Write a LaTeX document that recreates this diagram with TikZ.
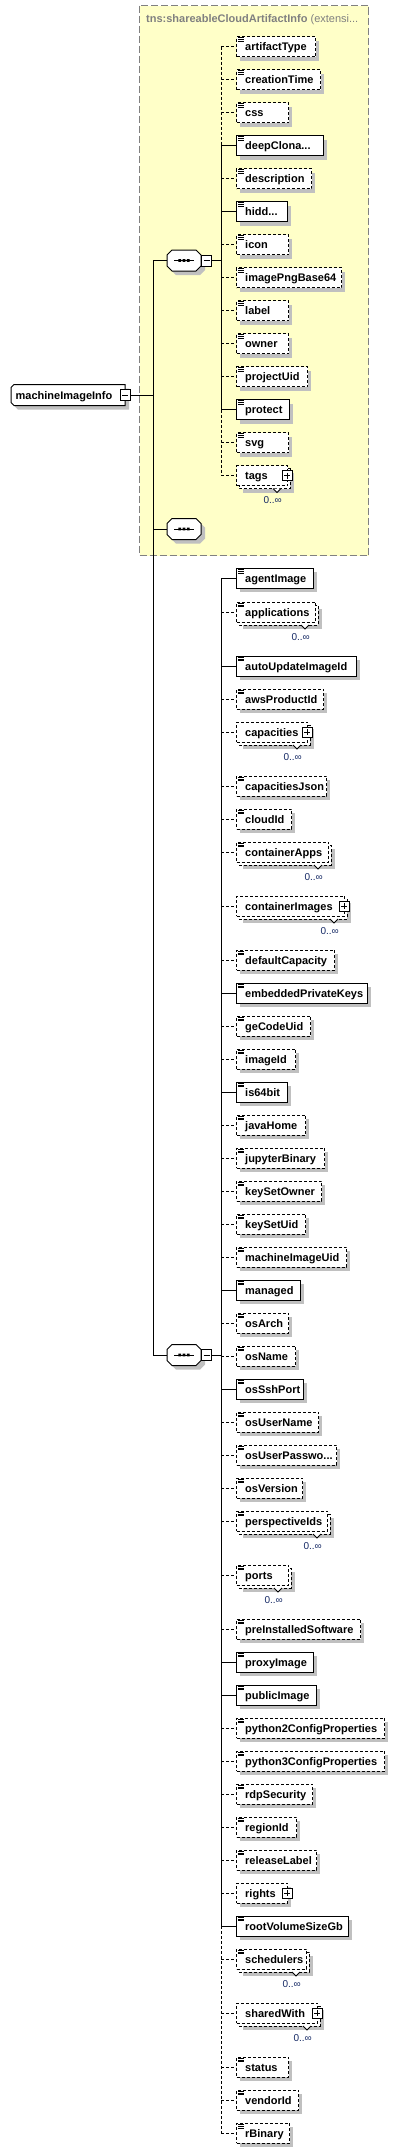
\documentclass[tikz,border=0pt]{standalone}
\usepackage{fontspec}
\setmainfont{Liberation Sans}
\usetikzlibrary{calc}
\definecolor{shadowc}{RGB}{192,192,192}
\definecolor{yel}{RGB}{255,255,200}
\definecolor{occ}{RGB}{20,40,100}
\definecolor{ttl}{RGB}{128,128,128}
\tikzset{
  ebox/.style={draw=black, fill=white, line width=1pt, minimum height=20pt, inner sep=0pt, anchor=west},
  opt/.style={dash pattern=on 3pt off 2pt},
  req/.style={},
  optwire/.style={line width=1pt, dash pattern=on 3pt off 2pt},
  reqwire/.style={line width=1pt},
  shd/.style={fill=shadowc, draw=none},
  etext/.style={font=\bfseries\fontsize{11pt}{13pt}\selectfont, anchor=base west, inner sep=0pt},
  occtext/.style={font=\fontsize{10pt}{12pt}\selectfont, text=occ, inner sep=0pt, anchor=base east},
  thin/.style={line width=1pt},
}
% icon of simple content
\newcommand\eicon[1]{\draw[line width=0.8pt] (238,#1-8.8) -- ++(5.5,0) (238,#1-7) -- ++(5.5,0) (238,#1-5.2) -- ++(5.5,0);}
\newcommand\plusbox[2]{\draw[fill=white,line width=1pt] (#1-5,#2-5) rectangle (#1+5,#2+5);
  \draw[line width=1pt] (#1-3,#2) -- (#1+3,#2) (#1,#2-3) -- (#1,#2+3);}
\newcommand\notch[2]{\draw[fill=white,line width=0.8pt] (#1-14,#2+13) -- (#1-10,#2+17) -- (#1-6,#2+13);}
\newcommand\occlabel[2]{\node[occtext] at (#1-5,#2+28) {0..∞};}
\newcommand\econn[3]{\coordinate (#1-b) at (221,#2); \draw[#3wire] (#1-b) -- (#1.west);}
% simple element
\newcommand\elS[5]{%
  \fill[shd] (240,#3-6) rectangle (#4+4,#3+14);
  \node[ebox,#5,minimum width={(#4-236)*1pt}] (#1) at (236,#3) {};
  \eicon{#3}
  \node[etext] at (245,#3+4) {#2};
  \econn{#1}{#3}{#5}}
% multiple simple element
\newcommand\elM[5]{%
  \fill[shd] (243,#3-3) rectangle (#4+7,#3+17);
  \draw[fill=white,line width=1pt,#5] (239,#3-7) rectangle (#4+3,#3+13);
  \node[ebox,#5,minimum width={(#4-236)*1pt}] (#1) at (236,#3) {};
  \eicon{#3}
  \node[etext] at (245,#3+4) {#2};
  \notch{#4}{#3}
  \occlabel{#4}{#3}
  \econn{#1}{#3}{#5}}
% complex element
\newcommand\elC[5]{%
  \fill[shd] (240,#3-6) rectangle (#4+4,#3+14);
  \node[ebox,#5,minimum width={(#4-236)*1pt}] (#1) at (236,#3) {};
  \node[etext] at (245,#3+4) {#2};
  \plusbox{#4}{#3}
  \econn{#1}{#3}{#5}}
% multiple complex element
\newcommand\elMC[5]{%
  \fill[shd] (243,#3-3) rectangle (#4+7,#3+17);
  \draw[fill=white,line width=1pt,#5] (239,#3-7) rectangle (#4+3,#3+13);
  \node[ebox,#5,minimum width={(#4-236)*1pt}] (#1) at (236,#3) {};
  \node[etext] at (245,#3+4) {#2};
  \plusbox{#4}{#3}
  \notch{#4}{#3}
  \occlabel{#4}{#3}
  \econn{#1}{#3}{#5}}
% sequence compositor
\newcommand\comp[2]{%
  \fill[shd] (176,#2-6.5) -- (200,#2-6.5) -- (205,#2-1.5) -- (205,#2+9.5) -- (200,#2+14.5) -- (176,#2+14.5) -- (171,#2+9.5) -- (171,#2-1.5) -- cycle;
  \node[inner sep=0pt, minimum width=34pt, minimum height=21pt] (#1) at (184,#2) {};
  \draw[fill=white, line width=1pt] (172,#2-10.5) -- (196,#2-10.5) -- (201,#2-5.5) -- (201,#2+5.5) -- (196,#2+10.5) -- (172,#2+10.5) -- (167,#2+5.5) -- (167,#2-5.5) -- cycle;
  \draw[line width=1pt] (174,#2) -- (194,#2);
  \fill (178.3,#2-1.4) rectangle ++(2.8,2.8) (182.6,#2-1.4) rectangle ++(2.8,2.8) (186.9,#2-1.4) rectangle ++(2.8,2.8);}
\newcommand\minusbox[3]{%
  \node[draw, fill=white, line width=1pt, inner sep=0pt, minimum width=10pt, minimum height=11pt] (#1) at (#2,#3) {};
  \draw[line width=1pt] (#2-3,#3) -- (#2+3,#3);}
\begin{document}
\begin{tikzpicture}[x=1pt,y=-1pt]
\useasboundingbox (0,0) rectangle (412,2152);
% extension base box
\draw[fill=yel, draw=ttl, line width=1pt, dash pattern=on 7pt off 3pt] (139.5,5.5) rectangle (368.5,555.5);
\node[anchor=base west, inner sep=0pt, text=ttl, font=\fontsize{11pt}{13pt}\selectfont] (title) at (146,22) {\textbf{tns:shareableCloudArtifactInfo} (extensi...};
% root element
\fill[shd] (18,388.5) -- (129,388.5) -- (129,409.5) -- (18,409.5) -- (15,406.5) -- (15,391.5) -- cycle;
\node[inner sep=0pt, minimum width=114pt, minimum height=21pt] (root) at (68,395) {};
\draw[fill=white, line width=1pt] (14,384.5) -- (125,384.5) -- (125,405.5) -- (14,405.5) -- (11,402.5) -- (11,387.5) -- cycle;
\node[etext] at (15.5,399) {machineImageInfo};
\minusbox{rootm}{125}{395}
% compositors
\comp{c1}{260.5}
\minusbox{c1m}{206.5}{260.5}
\comp{c2}{529}
\comp{c3}{1355}
\minusbox{c3m}{206.5}{1355}
% main bar
\coordinate (j1) at (153,260.5);
\coordinate (j0) at (153,395);
\coordinate (j2) at (153,529);
\coordinate (j3) at (153,1355);
\draw[thin] (j1) -- (j3);
\draw[thin] (rootm.east) -- (j0);
\draw[thin] (j1) -- (c1.west);
\draw[thin] (j2) -- (c2.west);
\draw[thin] (j3) -- (c3.west);
\coordinate (g1) at (221,260.5);
\coordinate (g3) at (221,1355);
\draw[thin] (c1m.east) -- (g1);
\draw[thin] (c3m.east) -- (g3);
% group 1
\elS{artifactType}{artifactType}{46.5}{315}{opt}
\elS{creationTime}{creationTime}{79.5}{320}{opt}
\elS{css}{css}{112.5}{288}{opt}
\elS{deepClona}{deepClona...}{145.5}{323}{req}
\elS{description}{description}{178.5}{311}{opt}
\elS{hidd}{hidd...}{211.5}{287}{req}
\elS{icon}{icon}{244.5}{288}{opt}
\elS{imagePngBase}{imagePngBase64}{277.5}{341}{opt}
\elS{label}{label}{310.5}{288}{opt}
\elS{owner}{owner}{343.5}{288}{opt}
\elS{projectUid}{projectUid}{376.5}{307}{opt}
\elS{protect}{protect}{409.5}{289}{req}
\elS{svg}{svg}{442.5}{288}{opt}
\elMC{tags}{tags}{475.5}{287}{opt}
\draw[optwire] (artifactType-b) -- (deepClona-b);
\draw[reqwire] (deepClona-b) -- (protect-b);
\draw[optwire] (protect-b) -- (tags-b);
% group 3
\elS{agentImage}{agentImage}{578.3}{313}{req}
\elM{applications}{applications}{612}{315}{opt}
\elS{autoUpdateImageId}{autoUpdateImageId}{666}{356}{req}
\elS{awsProductId}{awsProductId}{699}{323}{opt}
\elMC{capacities}{capacities}{732}{307}{opt}
\elS{capacitiesJson}{capacitiesJson}{786}{326}{opt}
\elS{cloudId}{cloudId}{819}{291}{opt}
\elM{containerApps}{containerApps}{852}{328}{opt}
\elMC{containerImages}{containerImages}{906}{344}{opt}
\elS{defaultCapacity}{defaultCapacity}{960}{334}{opt}
\elS{embeddedPrivateKeys}{embeddedPrivateKeys}{993}{367}{req}
\elS{geCodeUid}{geCodeUid}{1026}{310}{opt}
\elS{imageId}{imageId}{1059}{295}{opt}
\elS{is64bit}{is64bit}{1092}{287}{req}
\elS{javaHome}{javaHome}{1125}{305}{opt}
\elS{jupyterBinary}{jupyterBinary}{1158}{324}{opt}
\elS{keySetOwner}{keySetOwner}{1191}{321}{opt}
\elS{keySetUid}{keySetUid}{1224}{305}{opt}
\elS{machineImageUid}{machineImageUid}{1257}{346}{opt}
\elS{managed}{managed}{1290}{300}{req}
\elS{osArch}{osArch}{1323}{288}{opt}
\elS{osName}{osName}{1356}{295}{opt}
\elS{osSshPort}{osSshPort}{1389}{303}{req}
\elS{osUserName}{osUserName}{1422}{318}{opt}
\elS{osUserPasswo}{osUserPasswo...}{1455}{336}{opt}
\elS{osVersion}{osVersion}{1488}{302}{opt}
\elM{perspectiveIds}{perspectiveIds}{1521}{327}{opt}
\elM{ports}{ports}{1575}{288}{opt}
\elS{preInstalledSoftware}{preInstalledSoftware}{1629}{360}{opt}
\elS{proxyImage}{proxyImage}{1662}{313}{req}
\elS{publicImage}{publicImage}{1695}{316}{req}
\elS{pythonTwo}{python2ConfigProperties}{1728}{384}{opt}
\elS{pythonThree}{python3ConfigProperties}{1761}{384}{opt}
\elS{rdpSecurity}{rdpSecurity}{1794}{312}{opt}
\elS{regionId}{regionId}{1827}{296}{opt}
\elS{releaseLabel}{releaseLabel}{1860}{316}{opt}
\elC{rights}{rights}{1893}{287}{opt}
\elS{rootVolumeSizeGb}{rootVolumeSizeGb}{1926}{348}{req}
\elM{schedulers}{schedulers}{1959}{306}{opt}
\elMC{sharedWith}{sharedWith}{2013}{317}{opt}
\elS{status}{status}{2067}{288}{opt}
\elS{vendorId}{vendorId}{2100}{298}{opt}
\elS{rBinary}{rBinary}{2133.3}{289}{opt}
\draw[reqwire] (agentImage-b) -- (rootVolumeSizeGb-b);
\draw[optwire] (rootVolumeSizeGb-b) -- (rBinary-b);
\end{tikzpicture}
\end{document}
